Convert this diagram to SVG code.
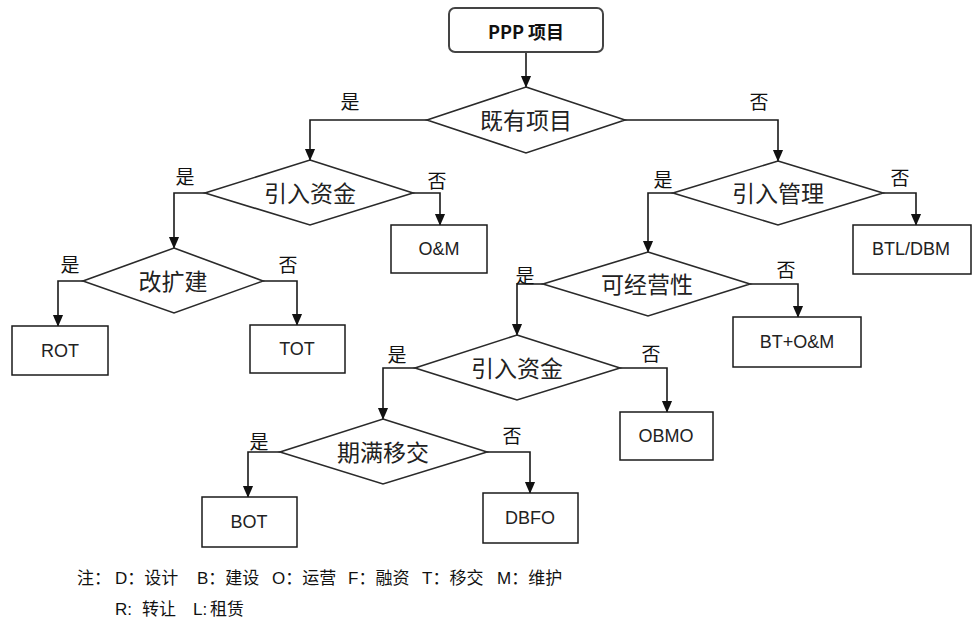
<svg xmlns="http://www.w3.org/2000/svg" width="974" height="628" viewBox="0 0 974 628">
<style>
.dia{fill:#fff;stroke:#2a2a2a;stroke-width:1.6}
.box{fill:#fff;stroke:#1a1a1a;stroke-width:1.5}
.dt{font-family:"Noto Sans CJK SC","Noto Sans",sans-serif;font-size:23px;fill:#222;text-anchor:middle;dominant-baseline:central}
.bt{font-family:"Liberation Sans",Arial,"Noto Sans CJK SC",sans-serif;font-size:18px;fill:#222;text-anchor:middle;dominant-baseline:central}
.lb{font-family:"Noto Sans CJK SC",sans-serif;font-size:19px;fill:#111;text-anchor:middle;dominant-baseline:central}
.lg{font-family:"Liberation Sans","Noto Sans CJK SC",sans-serif;font-size:17px;fill:#111}
.ln{fill:none;stroke:#1a1a1a;stroke-width:1.6}
</style>
<defs>
<marker id="a" markerUnits="userSpaceOnUse" markerWidth="12" markerHeight="14" refX="13" refY="6" orient="auto" viewBox="0 0 14 12">
<path d="M0,0 L14,6 L0,12 Z" fill="#111"/>
</marker>
</defs>
<rect width="974" height="628" fill="#fff"/>

<g id="connectors">
<path class="ln" d="M526,52 V87" marker-end="url(#a)"/>
<path class="ln" d="M427,120 H310 V160" marker-end="url(#a)"/>
<path class="ln" d="M625,120 H778 V161" marker-end="url(#a)"/>
<path class="ln" d="M205,193 H174 V248" marker-end="url(#a)"/>
<path class="ln" d="M413,193 H440 V225" marker-end="url(#a)"/>
<path class="ln" d="M83,281 H58 V326" marker-end="url(#a)"/>
<path class="ln" d="M263,281 H297 V325" marker-end="url(#a)"/>
<path class="ln" d="M673,193 H648 V252" marker-end="url(#a)"/>
<path class="ln" d="M883,193 H916 V225" marker-end="url(#a)"/>
<path class="ln" d="M543,284 H517 V335" marker-end="url(#a)"/>
<path class="ln" d="M750,284 H798 V317" marker-end="url(#a)"/>
<path class="ln" d="M415,368 H383 V419" marker-end="url(#a)"/>
<path class="ln" d="M620,368 H667 V412" marker-end="url(#a)"/>
<path class="ln" d="M280,452 H248 V497" marker-end="url(#a)"/>
<path class="ln" d="M487,452 H530 V493" marker-end="url(#a)"/>
</g>

<g id="labels">
<text class="lb" x="350" y="100">是</text>
<text class="lb" x="759" y="100">否</text>
<text class="lb" x="185" y="175">是</text>
<text class="lb" x="437" y="179">否</text>
<text class="lb" x="70" y="263">是</text>
<text class="lb" x="288" y="263">否</text>
<text class="lb" x="663" y="178">是</text>
<text class="lb" x="900" y="176">否</text>
<text class="lb" x="525" y="274">是</text>
<text class="lb" x="786" y="268">否</text>
<text class="lb" x="397" y="353">是</text>
<text class="lb" x="651" y="352">否</text>
<text class="lb" x="259" y="440">是</text>
<text class="lb" x="512" y="434">否</text>
</g>

<g id="n-ppp">
<rect x="449" y="8" width="154" height="44" rx="6" fill="#fff" stroke="#444" stroke-width="2"/>
<text x="526" y="31" font-family="'Noto Sans CJK SC',sans-serif" font-size="18" font-weight="bold" fill="#111" text-anchor="middle" dominant-baseline="central">PPP 项目</text>
</g>

<g id="n-existing">
<polygon class="dia" points="526,87 625,120 526,153 427,120"/>
<text class="dt" x="526" y="119">既有项目</text>
</g>

<g id="n-funds1">
<polygon class="dia" points="310,160 413,193 310,225 205,193"/>
<text class="dt" x="310" y="192">引入资金</text>
</g>

<g id="n-om">
<rect class="box" x="391" y="225" width="96" height="48"/>
<text class="bt" x="439" y="249">O&amp;M</text>
</g>

<g id="n-expand">
<polygon class="dia" points="174,248 263,281 174,313 83,281"/>
<text class="dt" x="173" y="280">改扩建</text>
</g>

<g id="n-rot">
<rect class="box" x="12" y="326" width="96" height="49"/>
<text class="bt" x="60" y="351">ROT</text>
</g>

<g id="n-tot">
<rect class="box" x="250" y="325" width="95" height="48"/>
<text class="bt" x="297" y="349">TOT</text>
</g>

<g id="n-mgmt">
<polygon class="dia" points="778,161 883,193 778,225 673,193"/>
<text class="dt" x="778" y="192">引入管理</text>
</g>

<g id="n-btl">
<rect class="box" x="853" y="225" width="118" height="49"/>
<text class="bt" x="911" y="249">BTL/DBM</text>
</g>

<g id="n-operable">
<polygon class="dia" points="648,252 750,284 648,316 543,284"/>
<text class="dt" x="647" y="283">可经营性</text>
</g>

<g id="n-btom">
<rect class="box" x="733" y="317" width="128" height="50"/>
<text class="bt" x="797" y="342">BT+O&amp;M</text>
</g>

<g id="n-funds2">
<polygon class="dia" points="517,335 620,368 517,400 415,368"/>
<text class="dt" x="517" y="367">引入资金</text>
</g>

<g id="n-obmo">
<rect class="box" x="620" y="412" width="93" height="48"/>
<text class="bt" x="666" y="436">OBMO</text>
</g>

<g id="n-transfer">
<polygon class="dia" points="383,419 487,452 383,484 280,452"/>
<text class="dt" x="383" y="451">期满移交</text>
</g>

<g id="n-bot">
<rect class="box" x="202" y="497" width="95" height="50"/>
<text class="bt" x="249" y="522">BOT</text>
</g>

<g id="n-dbfo">
<rect class="box" x="483" y="493" width="95" height="50"/>
<text class="bt" x="530" y="518">DBFO</text>
</g>

<g id="legend">
<text class="lg" x="77" y="584">注：</text>
<text class="lg" x="115" y="584">D：设计</text>
<text class="lg" x="197" y="584">B：建设</text>
<text class="lg" x="272" y="584">O：运营</text>
<text class="lg" x="348" y="584">F：融资</text>
<text class="lg" x="422" y="584">T：移交</text>
<text class="lg" x="497" y="584">M：维护</text>
<text class="lg" x="115" y="615">R:</text>
<text class="lg" x="142" y="615">转让</text>
<text class="lg" x="193" y="615">L:</text>
<text class="lg" x="210" y="615">租赁</text>
</g>
</svg>
